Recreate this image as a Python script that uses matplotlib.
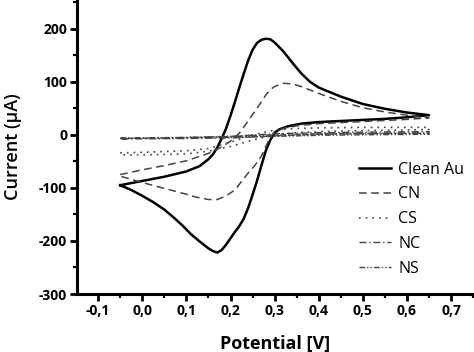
import matplotlib
matplotlib.use("Agg")
import matplotlib.pyplot as plt
from matplotlib.ticker import MultipleLocator, FuncFormatter

plt.rcParams["font.family"] = ["Open Sans", "DejaVu Sans"]

# Clean Au, forward (anodic) and reverse (cathodic) branches
clean_fwd_x = [-0.05, 0.00, 0.05, 0.10, 0.13, 0.15, 0.16, 0.17, 0.18, 0.19, 0.20, 0.21, 0.22,
               0.23, 0.24, 0.25, 0.26, 0.27, 0.28, 0.29, 0.30, 0.32, 0.34, 0.36, 0.38, 0.40,
               0.45, 0.50, 0.55, 0.60, 0.65]
clean_fwd_y = [-95, -87, -79, -69, -59, -46, -37, -24, -7, 12, 36, 62, 89,
               115, 140, 160, 173, 179, 181, 180, 174, 157, 136, 116, 100, 89,
               72, 58, 49, 42, 37]
clean_rev_x = [0.65, 0.60, 0.55, 0.50, 0.45, 0.40, 0.36, 0.33, 0.31, 0.30, 0.29, 0.28, 0.27,
               0.26, 0.25, 0.24, 0.23, 0.22, 0.21, 0.20, 0.19, 0.18, 0.17, 0.16, 0.15, 0.13,
               0.11, 0.09, 0.07, 0.05, 0.025, 0.00, -0.025, -0.05]
clean_rev_y = [37, 33, 30, 28, 26, 24, 21, 16, 10, 4, -10, -30, -58,
               -87, -113, -138, -158, -172, -183, -195, -207, -217, -222, -219, -214, -201,
               -187, -170, -155, -141, -127, -115, -104, -95]

# CN
cn_fwd_x = [-0.05, 0.00, 0.05, 0.10, 0.15, 0.18, 0.20, 0.22, 0.24, 0.26, 0.27, 0.28, 0.29,
            0.30, 0.32, 0.34, 0.36, 0.40, 0.45, 0.50, 0.55, 0.60, 0.65]
cn_fwd_y = [-75, -66, -58, -49, -35, -23, -12, 3, 26, 50, 62, 75, 85,
            91, 97, 96, 91, 78, 63, 51, 43, 37, 32]
cn_rev_x = [0.65, 0.60, 0.55, 0.50, 0.45, 0.40, 0.35, 0.32, 0.30, 0.29, 0.28, 0.27, 0.255,
            0.24, 0.225, 0.21, 0.19, 0.17, 0.15, 0.12, 0.10, 0.05, 0.00, -0.05]
cn_rev_y = [32, 29, 27, 25, 23, 21, 17, 12, 6, -5, -22, -40, -58,
            -72, -88, -104, -115, -122, -122, -117, -112, -101, -90, -78]

# CS
cs_fwd_x = [-0.05, 0.00, 0.10, 0.15, 0.20, 0.25, 0.30, 0.35, 0.40, 0.50, 0.60, 0.65]
cs_fwd_y = [-34, -33, -30, -26, -14, 0, 9, 12, 13, 14, 14, 14]
cs_rev_x = [0.65, 0.60, 0.50, 0.40, 0.35, 0.30, 0.25, 0.20, 0.15, 0.10, 0.00, -0.05]
cs_rev_y = [10, 9, 8, 6, 4, 0, -10, -22, -31, -36, -38, -38]

# NC
nc_fwd_x = [-0.05, 0.10, 0.20, 0.30, 0.40, 0.50, 0.65]
nc_fwd_y = [-7, -5, -3, 2, 4, 5, 6]
nc_rev_x = [0.65, 0.50, 0.40, 0.30, 0.20, 0.10, -0.05]
nc_rev_y = [3, 2, 1, -2, -6, -7, -8]

# NS
ns_fwd_x = [-0.05, 0.10, 0.20, 0.30, 0.40, 0.50, 0.65]
ns_fwd_y = [-6, -5, -3, 0, 2, 3, 3]
ns_rev_x = [0.65, 0.50, 0.40, 0.30, 0.20, 0.10, -0.05]
ns_rev_y = [1, 0, -1, -3, -5, -6, -7]

x_ticks = [-0.1, 0.0, 0.1, 0.2, 0.3, 0.4, 0.5, 0.6, 0.7]
y_ticks = [-300, -200, -100, 0, 100, 200]

fig = plt.figure(figsize=(4.74, 3.52), dpi=100)
ax = fig.add_axes([77 / 474, 1 - 294 / 352, 1 - 77 / 474, 294 / 352])

ax.plot(clean_fwd_x + clean_rev_x, clean_fwd_y + clean_rev_y, color="black", lw=1.8, label="Clean Au")
ax.plot(cn_fwd_x + cn_rev_x, cn_fwd_y + cn_rev_y, color="#444444", lw=1.1,
        linestyle=(0, (5, 3)), label="CN")
ax.plot(cs_fwd_x + cs_rev_x, cs_fwd_y + cs_rev_y, color="#444444", lw=1.2,
        linestyle=(0, (1, 3)), label="CS")
ax.plot(nc_fwd_x + nc_rev_x, nc_fwd_y + nc_rev_y, color="#444444", lw=1.0,
        linestyle=(0, (5, 2, 1, 2)), label="NC")
ax.plot(ns_fwd_x + ns_rev_x, ns_fwd_y + ns_rev_y, color="#444444", lw=1.0,
        linestyle=(0, (4, 1.5, 1, 1.5, 1, 1.5)), label="NS")

ax.set_xlim(-0.148, 0.752)
ax.set_ylim(-300, 254)

for side in ["top", "right"]:
    ax.spines[side].set_visible(False)
for side in ["left", "bottom"]:
    ax.spines[side].set_linewidth(2.2)

ax.set_xticks(x_ticks)
ax.set_yticks(y_ticks)
ax.xaxis.set_minor_locator(MultipleLocator(0.05))
ax.yaxis.set_minor_locator(MultipleLocator(50))
ax.xaxis.set_major_formatter(FuncFormatter(lambda v, p: f"{v:.1f}".replace(".", ",").replace("-0,0", "0,0")))
ax.yaxis.set_major_formatter(FuncFormatter(lambda v, p: f"{v:.0f}"))
ax.tick_params(which="major", direction="out", length=5, width=2, labelsize=10, pad=2)
ax.tick_params(which="minor", direction="out", length=3, width=1.6)
for lbl in ax.get_xticklabels() + ax.get_yticklabels():
    lbl.set_fontweight("bold")

ax.set_xlabel("Potential [V]", fontsize=13, fontweight="bold", labelpad=12)
ax.set_ylabel("Current (μA)", fontsize=13, fontweight="semibold", labelpad=12)

ax.legend(loc="upper left", bbox_to_anchor=(0.71, 0.45), frameon=False, fontsize=11.5,
          handlelength=2.0, handletextpad=0.45, labelspacing=0.55, borderpad=0, borderaxespad=0)

fig.savefig("out.png", dpi=100)
